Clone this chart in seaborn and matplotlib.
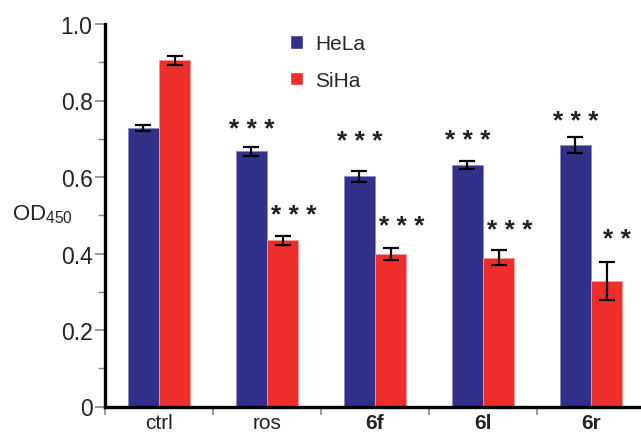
import numpy as np
import pandas as pd
import matplotlib
matplotlib.use("Agg")
import matplotlib.pyplot as plt
import matplotlib.transforms as mtransforms
from matplotlib.ticker import FixedLocator
import seaborn as sns

# Treatments, cell lines and measured optical density (mean ± error)
treatments = ["ctrl", "ros", "6f", "6l", "6r"]
cell_lines = ["HeLa", "SiHa"]
hela_od = [0.728, 0.667, 0.602, 0.632, 0.684]
hela_err = [0.008, 0.012, 0.014, 0.011, 0.020]
siha_od = [0.905, 0.434, 0.399, 0.389, 0.328]
siha_err = [0.012, 0.011, 0.015, 0.019, 0.050]
# significance marks per treatment (empty for control) and their heights
hela_sig = ["", "* * *", "* * *", "* * *", "* * *"]
siha_sig = ["", "* * *", "* * *", "* * *", "* *"]
hela_sig_y = [0, 0.738, 0.707, 0.710, 0.759]
siha_sig_y = [0, 0.513, 0.485, 0.475, 0.451]
y_ticks = [0, 0.2, 0.4, 0.6, 0.8, 1.0]
y_ticklabels = ["0", "0.2", "0.4", "0.6", "0.8", "1.0"]

colors = {"HeLa": "#33308a", "SiHa": "#ee2e2a"}

df = pd.DataFrame({
    "treatment": treatments * 2,
    "line": ["HeLa"] * len(treatments) + ["SiHa"] * len(treatments),
    "od": hela_od + siha_od,
})

sns.set_style("white")
plt.rcParams["font.family"] = ["Liberation Sans", "DejaVu Sans"]
plt.rcParams["mathtext.fontset"] = "custom"
plt.rcParams["mathtext.rm"] = "Liberation Sans"

W, H = 641, 435
fig = plt.figure(figsize=(W / 100, H / 100), dpi=100)
ax = fig.add_axes([105 / W, (H - 407.5) / H, 1 - 105 / W, (407.5 - 25) / H])

sns.barplot(data=df, x="treatment", y="od", hue="line", order=treatments,
            hue_order=cell_lines, palette=colors, width=0.575, saturation=1,
            errorbar=None, ax=ax, legend=True)

# error bars at each bar's centre
errs = {"HeLa": hela_err, "SiHa": siha_err}
vals = {"HeLa": hela_od, "SiHa": siha_od}
centers = {}
for cont, name in zip(ax.containers, cell_lines):
    xs = [p.get_x() + p.get_width() / 2 for p in cont.patches]
    centers[name] = xs
    for p in cont.patches:
        p.set_edgecolor("#8a88c8" if name == "HeLa" else "#f59a96")
        p.set_linewidth(0.6)
    ax.errorbar(xs, vals[name], yerr=errs[name], fmt="none", ecolor="black",
                elinewidth=1.6, capsize=5.5, capthick=1.6, zorder=5)

# significance asterisks
star_tr = mtransforms.offset_copy(ax.transData, fig=fig, y=-12, units="dots")
for i in range(len(treatments)):
    if hela_sig[i]:
        ax.text(centers["HeLa"][i], hela_sig_y[i], hela_sig[i], ha="center",
                va="baseline", fontsize=19, fontweight="bold", color="#222222",
                transform=star_tr)
    if siha_sig[i]:
        ax.text(centers["SiHa"][i] + 0.1, siha_sig_y[i], siha_sig[i], ha="center",
                va="baseline", fontsize=19, fontweight="bold", color="#222222",
                transform=star_tr)

ax.set_ylim(0, 1.0)
ax.set_xlim(-0.5, -0.5 + (W - 105) / 108)
ax.set_yticks(y_ticks)
ax.set_yticklabels(y_ticklabels)
ax.yaxis.set_minor_locator(FixedLocator([0.1, 0.3, 0.5, 0.7, 0.9]))
ax.xaxis.set_minor_locator(FixedLocator([-0.5, 0.5, 1.5, 2.5, 3.5]))
ax.tick_params(axis="y", which="major", left=True, length=7, width=1.2,
               color="#888888", labelsize=16.5, pad=2, labelcolor="#222222")
ax.tick_params(axis="y", which="minor", left=True, length=5, width=1.0,
               color="#888888")
ax.tick_params(axis="x", which="major", bottom=True, length=0, labelsize=15,
               pad=5, labelcolor="#222222")
ax.tick_params(axis="x", which="minor", bottom=True, length=6, width=1.2,
               color="#888888")
for lbl in ax.get_xticklabels():
    if lbl.get_text().startswith("6"):
        lbl.set_fontweight("bold")

ax.set_xlabel("")
ax.set_ylabel("")
for s in ["top", "right"]:
    ax.spines[s].set_visible(False)
for s in ["left", "bottom"]:
    ax.spines[s].set_linewidth(2.4)
    ax.spines[s].set_color("black")

fig.text(12 / W, 1 - 215 / H, r"OD$_\mathregular{450}$", fontsize=16,
         va="center", ha="left", color="#222222")

handles, labels = ax.get_legend_handles_labels()
ax.legend(handles, labels, loc="upper left", frameon=False, fontsize=15,
          bbox_to_anchor=(280 / W, 1 - 25 / H), bbox_transform=fig.transFigure,
          handlelength=0.6, handleheight=0.6, handletextpad=0.6,
          labelspacing=0.85, borderpad=0)

fig.savefig("out.png", dpi=100)
